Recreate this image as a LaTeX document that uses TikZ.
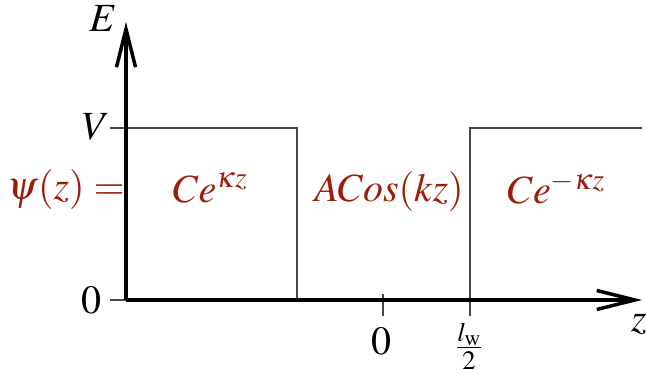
\documentclass[tikz,border=0pt]{standalone}
\usepackage{mathptmx}
\usetikzlibrary{arrows.meta}
\definecolor{psired}{RGB}{158,28,10}
\definecolor{wellgray}{RGB}{70,70,70}

\begin{document}
\begin{tikzpicture}[x=1pt, y=1pt, >={Straight Barb[length=38pt,width=19pt]},
  axis/.style={->, line width=3.5pt},
  well/.style={line width=1.2pt, wellgray},
  tick/.style={line width=1.2pt, wellgray},
  lbl/.style={font=\fontsize{40}{48}\selectfont, inner sep=0pt},
  wave/.style={lbl, text=psired}]
  \useasboundingbox (0,0) rectangle (646,374);

  % Reference points
  \coordinate (O) at (126,74);
  \coordinate (Etop) at (126,352);
  \coordinate (zend) at (642,74);
  \coordinate (Vleft) at (110,246);
  \coordinate (Zleft) at (110,74);
  \coordinate (wellL) at (297,246);
  \coordinate (wellLb) at (297,74);
  \coordinate (wellR) at (470,246);
  \coordinate (wellRb) at (470,58);
  \coordinate (farR) at (642,246);
  \coordinate (zeroT) at (383,80);
  \coordinate (zeroB) at (383,58);

  % Potential well
  \draw[well] (Vleft) -- (wellL) -- (wellLb);
  \draw[well] (wellRb) -- (wellR) -- (farR);
  \draw[tick] (Zleft) -- (O);
  \draw[tick] (zeroT) -- (zeroB);

  % Axes
  \draw[axis] (O) -- (Etop);
  \draw[axis] (O) -- (zend);

  % Axis labels
  \node[lbl] (Elab) at (103,355) {$E$};
  \node[lbl] (zlab) at (639,50) {$z$};
  \node[lbl] (Vlab) at (96,247) {$V$};
  \node[lbl] (Olab) at (91,74) {$0$};
  \node[lbl] (zero) at (381,33) {$0$};
  \node[font=\fontsize{36}{42}\selectfont, inner sep=0pt] (half) at (469,28) {$\frac{l_{\mathrm{w}}}{2}$};

  % Wave function
  \node[wave] (psi) at (66,184) {$\psi(z) =$};
  \node[wave] (left) at (210,186) {$Ce^{\kappa z}$};
  \node[wave] (mid) at (389,182) {$ACos(kz)$};
  \node[wave] (right) at (556,186) {$Ce^{-\kappa z}$};
\end{tikzpicture}
\end{document}
